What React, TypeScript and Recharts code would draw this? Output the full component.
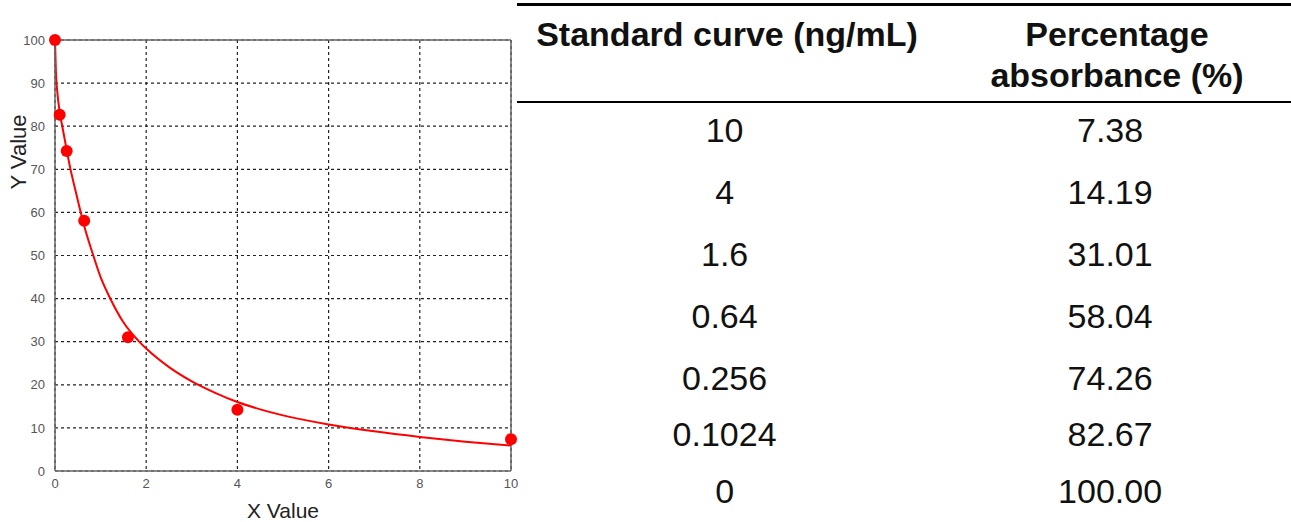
import {
  ComposedChart,
  Line,
  Scatter,
  XAxis,
  YAxis,
  CartesianGrid,
  ReferenceLine,
  Label,
} from "recharts";

// standard curve table
const concentrationLabels = ["10", "4", "1.6", "0.64", "0.256", "0.1024", "0"];
const concentrations = [10, 4, 1.6, 0.64, 0.256, 0.1024, 0];
const absorbanceLabels = ["7.38", "14.19", "31.01", "58.04", "74.26", "82.67", "100.00"];
const absorbance = [7.38, 14.19, 31.01, 58.04, 74.26, 82.67, 100.0];

// fitted curve
const fitX = [0, 0.02, 0.05, 0.1, 0.15, 0.256, 0.33, 0.45, 0.53, 0.65, 0.84, 1.0, 1.19, 1.5, 1.83, 2, 2.5, 3, 3.5, 4, 4.5, 5, 6, 7, 8, 9, 10];
const fitY = [100, 92.5, 88, 83.5, 80.5, 74.5, 70.5, 65, 61.5, 56.5, 50, 45, 40.5, 34.5, 30.2, 28.4, 24.1, 20.8, 18.2, 16.0, 14.3, 12.9, 10.8, 9.2, 7.9, 6.8, 5.9];

const xTicks = [0, 2, 4, 6, 8, 10];
const yTicks = [0, 10, 20, 30, 40, 50, 60, 70, 80, 90, 100];

const points = concentrations.map((x, i) => ({ x, y: absorbance[i] }));
const fitData = fitX.map((x, i) => ({ x, y: fitY[i] }));

const font = "'Liberation Sans', Arial, sans-serif";
const tickStyle = { fontSize: 13, fill: "#555", fontFamily: font };

// vertical centres of the table body rows
const rowCenters = [130, 192, 254, 316, 378, 434, 491];

function Dot(props: { cx?: number; cy?: number }) {
  return <circle cx={props.cx} cy={props.cy} r={6} fill="#ff0000" />;
}

function StandardTable() {
  const headStyle = {
    position: "absolute" as const,
    top: 14,
    textAlign: "center" as const,
    fontWeight: "bold",
    fontSize: 34,
    lineHeight: "41px",
  };
  return (
    <div style={{ position: "absolute", left: 520, top: 0, width: 771, height: 522, fontFamily: font, color: "#111" }}>
      <div style={{ position: "absolute", left: -3, top: 3, width: 774, height: 3, background: "#000" }} />
      <div style={{ ...headStyle, left: 0, width: 414 }}>Standard curve (ng/mL)</div>
      <div style={{ ...headStyle, left: 414, width: 366 }}>
        Percentage
        <br />
        absorbance (%)
      </div>
      <div style={{ position: "absolute", left: -3, top: 101, width: 774, height: 2, background: "#000" }} />
      {concentrationLabels.map((c, i) => (
        <div
          key={i}
          style={{
            position: "absolute",
            left: 0,
            top: rowCenters[i] - 20,
            height: 40,
            width: 771,
            display: "flex",
            alignItems: "center",
            fontSize: 34,
          }}
        >
          <div style={{ width: 414, textAlign: "center" }}>{c}</div>
          <div style={{ width: 366, textAlign: "center" }}>{absorbanceLabels[i]}</div>
        </div>
      ))}
    </div>
  );
}

export default function App() {
  return (
    <div style={{ position: "absolute", left: 0, top: 0, width: 1291, height: 522, background: "#fff" }}>
      <div style={{ position: "absolute", left: 0, top: 0 }}>
        <ComposedChart width={530} height={522} margin={{ top: 40, right: 19, bottom: 0, left: 0 }}>
          <CartesianGrid stroke="#222" strokeWidth={1.2} strokeDasharray="3 3" />
          <XAxis
            type="number"
            dataKey="x"
            domain={[0, 10]}
            ticks={xTicks}
            height={51}
            tickLine={false}
            tickMargin={2}
            tick={tickStyle}
            axisLine={{ stroke: "#666", strokeWidth: 1.5 }}
          >
            <Label
              value="X Value"
              position="insideBottom"
              offset={4}
              style={{ fontSize: 21, fill: "#222", fontFamily: font }}
            />
          </XAxis>
          <YAxis
            type="number"
            dataKey="y"
            domain={[0, 100]}
            ticks={yTicks}
            width={55}
            tickLine={false}
            tickMargin={4}
            tick={tickStyle}
            axisLine={{ stroke: "#666", strokeWidth: 1.5 }}
          >
            <Label
              content={() => (
                <text
                  x={18}
                  y={152}
                  transform="rotate(-90 18 152)"
                  textAnchor="middle"
                  dominantBaseline="central"
                  style={{ fontSize: 22, fill: "#222", fontFamily: font }}
                >
                  Y Value
                </text>
              )}
            />
          </YAxis>
          <ReferenceLine y={100} stroke="#666" strokeWidth={1.5} />
          <ReferenceLine x={10} stroke="#666" strokeWidth={1.5} />
          <Line
            data={fitData}
            dataKey="y"
            type="monotone"
            stroke="#ff0000"
            strokeWidth={2}
            dot={false}
            isAnimationActive={false}
          />
          <Scatter data={points} dataKey="y" fill="#ff0000" shape={<Dot />} isAnimationActive={false} />
        </ComposedChart>
      </div>
      <StandardTable />
    </div>
  );
}
